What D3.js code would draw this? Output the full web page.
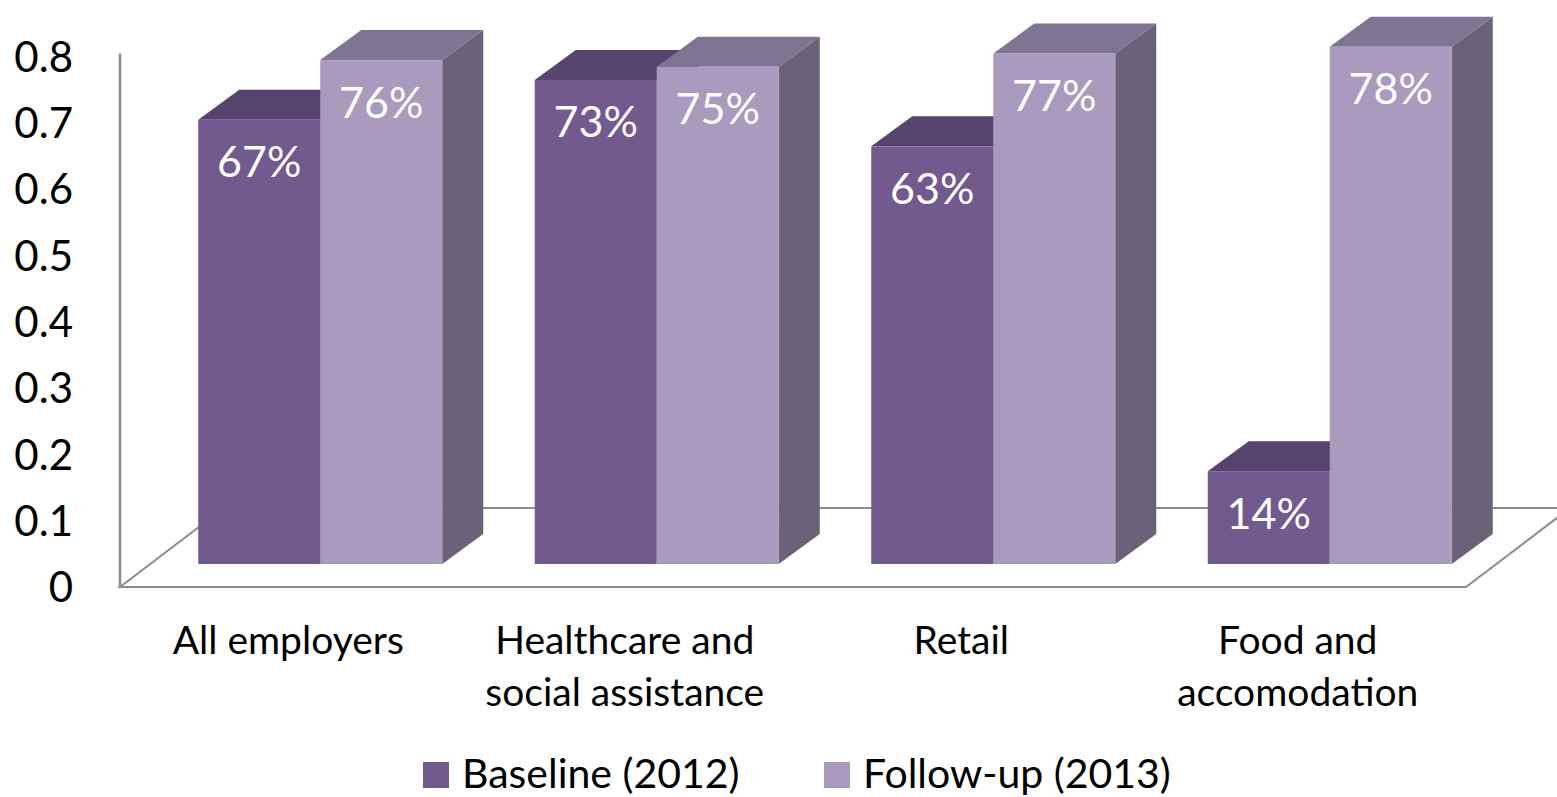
<!DOCTYPE html>
<html>
<head>
<meta charset="utf-8">
<script src="https://cdn.jsdelivr.net/npm/d3@7"></script>
<style>
  body { margin: 0; background: #ffffff; }
  text { font-family: Lato, "Open Sans", sans-serif; }
</style>
</head>
<body>
<svg id="chart" width="1557" height="797"></svg>
<script>
// Share of employers, by sector, at baseline and follow-up
const categories = ["All employers", "Healthcare and\nsocial assistance", "Retail", "Food and\naccomodation"];
const seriesNames = ["Baseline (2012)", "Follow-up (2013)"];
const baseline = [0.67, 0.73, 0.63, 0.14];
const followUp = [0.76, 0.75, 0.77, 0.78];
const yTicks = [0, 0.1, 0.2, 0.3, 0.4, 0.5, 0.6, 0.7, 0.8];

const colors = [
  { front: "#725a8e", top: "#56436e", side: "#4f3f66" },
  { front: "#a99abe", top: "#7f7491", side: "#6b6279" }
];

const svg = d3.select("#chart");

// floor front edge and value axis (front plane)
const floorLeft = 120, floorRight = 1466, floorY = 587;
const x = d3.scaleBand().domain(categories).range([floorLeft, floorRight]).padding(0);
const xs = d3.scaleBand().domain([0, 1]).range([0, x.bandwidth()]).paddingInner(0).paddingOuter(0.379);
const y = d3.scaleLinear().domain([0, 0.8]).range([floorY, 56.6]);

// projection offsets
const floorDepth = { dx: 104, dy: 79 };   // full depth of the floor
const barShift = { dx: 32, dy: 23 };      // bars sit back from the floor front
const barDepth = { dx: 41, dy: 30 };      // depth of each bar

const gridColor = "#8c8c8c";

// floor outline
const fb = [
  [floorLeft, floorY],
  [floorRight, floorY],
  [floorRight + floorDepth.dx, floorY - floorDepth.dy],
  [floorLeft + floorDepth.dx, floorY - floorDepth.dy]
];
svg.append("path")
  .attr("d", d3.line()(fb) + "Z")
  .attr("fill", "#ffffff")
  .attr("stroke", gridColor)
  .attr("stroke-width", 2);

// vertical value axis line
svg.append("line")
  .attr("x1", floorLeft).attr("x2", floorLeft)
  .attr("y1", y(0)).attr("y2", y(0.8) - 3)
  .attr("stroke", gridColor).attr("stroke-width", 2.5);

// value axis labels
svg.append("g").selectAll("text")
  .data(yTicks)
  .join("text")
  .attr("x", 73)
  .attr("y", d => y(d))
  .attr("dy", "0.36em")
  .attr("text-anchor", "end")
  .attr("font-size", 42)
  .attr("fill", "#000")
  .text(d => d === 0 ? "0" : d3.format(".1f")(d));

// 3D bars
const series = [baseline, followUp];
const barsG = svg.append("g");
categories.forEach((cat, ci) => {
  series.forEach((vals, si) => {
    const v = vals[ci];
    const x0 = x(cat) + xs(si) + barShift.dx;
    const w = xs.bandwidth();
    const yTop = y(v) - barShift.dy;
    const yBase = y(0) - barShift.dy;
    const c = colors[si];
    const g = barsG.append("g");
    // side face
    g.append("path")
      .attr("d", d3.line()([
        [x0 + w, yTop], [x0 + w + barDepth.dx, yTop - barDepth.dy],
        [x0 + w + barDepth.dx, yBase - barDepth.dy], [x0 + w, yBase]
      ]) + "Z")
      .attr("fill", c.side);
    // top face
    g.append("path")
      .attr("d", d3.line()([
        [x0, yTop], [x0 + barDepth.dx, yTop - barDepth.dy],
        [x0 + w + barDepth.dx, yTop - barDepth.dy], [x0 + w, yTop]
      ]) + "Z")
      .attr("fill", c.top);
    // front face
    g.append("rect")
      .attr("x", x0).attr("y", yTop)
      .attr("width", w).attr("height", yBase - yTop)
      .attr("fill", c.front);
    // value label
    g.append("text")
      .attr("x", x0 + w / 2)
      .attr("y", yTop + 42)
      .attr("dy", "0.36em")
      .attr("text-anchor", "middle")
      .attr("font-size", 43)
      .attr("fill", "#ffffff")
      .text(d3.format(".0%")(v));
  });
});

// category labels
const catG = svg.append("g");
categories.forEach(cat => {
  const lines = cat.split("\n");
  const t = catG.append("text")
    .attr("text-anchor", "middle")
    .attr("font-size", 39)
    .attr("fill", "#000");
  lines.forEach((ln, i) => {
    t.append("tspan")
      .attr("x", x(cat) + x.bandwidth() / 2)
      .attr("y", 640 + i * 52)
      .attr("dy", "0.36em")
      .text(ln);
  });
});

// legend
const legendX = [423, 824];
const legend = svg.append("g");
seriesNames.forEach((name, i) => {
  legend.append("rect")
    .attr("x", legendX[i]).attr("y", 762)
    .attr("width", 26).attr("height", 26)
    .attr("fill", colors[i].front);
  legend.append("text")
    .attr("x", legendX[i] + 39).attr("y", 773)
    .attr("dy", "0.36em")
    .attr("font-size", 41)
    .attr("fill", "#000")
    .text(name);
});
</script>
</body>
</html>
